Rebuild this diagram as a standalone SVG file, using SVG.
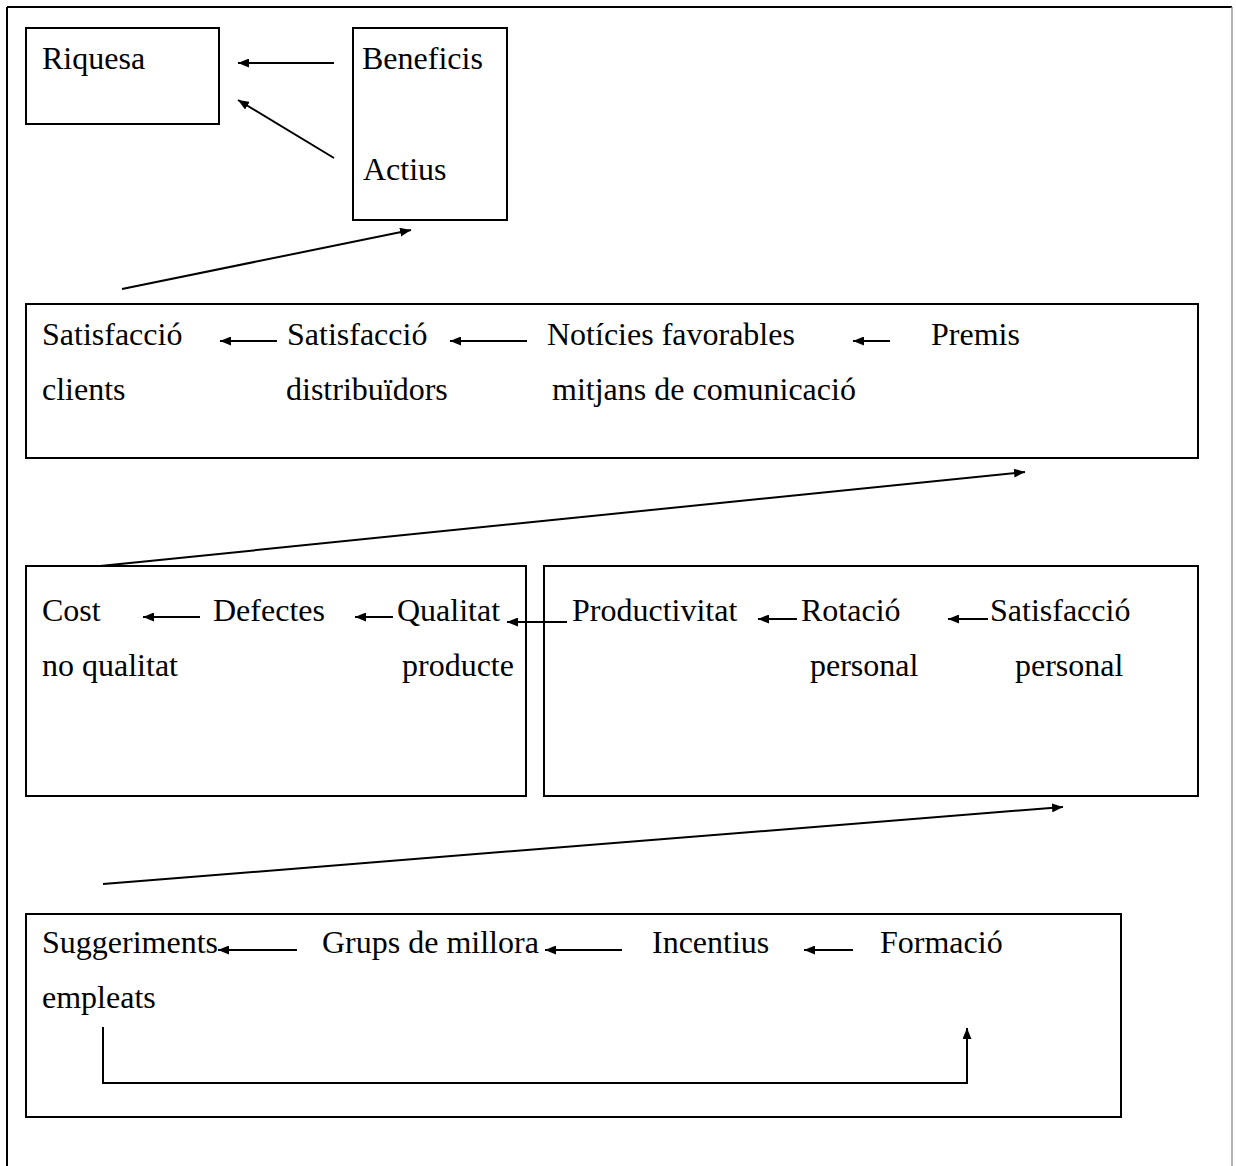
<svg xmlns="http://www.w3.org/2000/svg" width="1236" height="1166" viewBox="0 0 1236 1166">
<defs>
<style>
.box{fill:none;stroke:#000;stroke-width:2}
.t{font-family:"Liberation Serif","Times New Roman",serif;font-size:32px;fill:#000}
.c{fill:none;stroke:#000;stroke-width:2}
</style>
<marker id="ah" markerUnits="userSpaceOnUse" markerWidth="11" markerHeight="9" refX="11" refY="4.5" orient="auto">
<path d="M0,0 L11,4.5 L0,9 z" fill="#000"/>
</marker>
</defs>
<rect width="1236" height="1166" fill="#fff"/>
<g id="frame">
<line x1="7" y1="7" x2="1232" y2="7" stroke="#000" stroke-width="2"/>
<line x1="7" y1="7" x2="7" y2="1166" stroke="#000" stroke-width="2"/>
<line x1="1232" y1="7" x2="1232" y2="1166" stroke="#999" stroke-width="1.5"/>
</g>
<g id="node-riquesa">
<rect class="box" x="26" y="28" width="193" height="96"/>
<text class="t" x="42" y="69">Riquesa</text>
</g>
<g id="node-beneficis-actius">
<rect class="box" x="353" y="28" width="154" height="192"/>
<text class="t" x="362" y="69">Beneficis</text>
<text class="t" x="363" y="180">Actius</text>
</g>
<g id="node-clients">
<rect class="box" x="26" y="304" width="1172" height="154"/>
<text class="t" x="42" y="345">Satisfacció</text>
<text class="t" x="42" y="400">clients</text>
<text class="t" x="287" y="345">Satisfacció</text>
<text class="t" x="286" y="400">distribuïdors</text>
<text class="t" x="547" y="345">Notícies favorables</text>
<text class="t" x="552" y="400">mitjans de comunicació</text>
<text class="t" x="931" y="345">Premis</text>
</g>
<g id="node-qualitat">
<rect class="box" x="26" y="566" width="500" height="230"/>
<text class="t" x="42" y="621">Cost</text>
<text class="t" x="42" y="676">no qualitat</text>
<text class="t" x="213" y="621">Defectes</text>
<text class="t" x="397" y="621">Qualitat</text>
<text class="t" x="402" y="676">producte</text>
</g>
<g id="node-personal">
<rect class="box" x="544" y="566" width="654" height="230"/>
<text class="t" x="572" y="621">Productivitat</text>
<text class="t" x="801" y="621">Rotació</text>
<text class="t" x="810" y="676">personal</text>
<text class="t" x="990" y="621">Satisfacció</text>
<text class="t" x="1015" y="676">personal</text>
</g>
<g id="node-empleats">
<rect class="box" x="26" y="914" width="1095" height="203"/>
<text class="t" x="42" y="953">Suggeriments</text>
<text class="t" x="42" y="1008">empleats</text>
<text class="t" x="322" y="953">Grups de millora</text>
<text class="t" x="652" y="953">Incentius</text>
<text class="t" x="880" y="953">Formació</text>
</g>
<g id="connectors">
<line class="c" x1="334" y1="63" x2="238" y2="63" marker-end="url(#ah)"/>
<line class="c" x1="334" y1="158" x2="238" y2="100" marker-end="url(#ah)"/>
<line class="c" x1="122" y1="289" x2="411" y2="230" marker-end="url(#ah)"/>
<line class="c" x1="277" y1="341" x2="220" y2="341" marker-end="url(#ah)"/>
<line class="c" x1="527" y1="341" x2="450" y2="341" marker-end="url(#ah)"/>
<line class="c" x1="890" y1="341" x2="853" y2="341" marker-end="url(#ah)"/>
<line class="c" x1="100" y1="566" x2="1025" y2="472" marker-end="url(#ah)"/>
<line class="c" x1="200" y1="617" x2="143" y2="617" marker-end="url(#ah)"/>
<line class="c" x1="393" y1="617" x2="355" y2="617" marker-end="url(#ah)"/>
<line class="c" x1="567" y1="622" x2="507" y2="622" marker-end="url(#ah)"/>
<line class="c" x1="797" y1="619" x2="758" y2="619" marker-end="url(#ah)"/>
<line class="c" x1="988" y1="619" x2="948" y2="619" marker-end="url(#ah)"/>
<line class="c" x1="103" y1="884" x2="1063" y2="807" marker-end="url(#ah)"/>
<line class="c" x1="297" y1="950" x2="218" y2="950" marker-end="url(#ah)"/>
<line class="c" x1="622" y1="950" x2="545" y2="950" marker-end="url(#ah)"/>
<line class="c" x1="853" y1="950" x2="804" y2="950" marker-end="url(#ah)"/>
<path class="c" d="M103,1027 V1083 H967 V1028" marker-end="url(#ah)"/>
</g>
</svg>
